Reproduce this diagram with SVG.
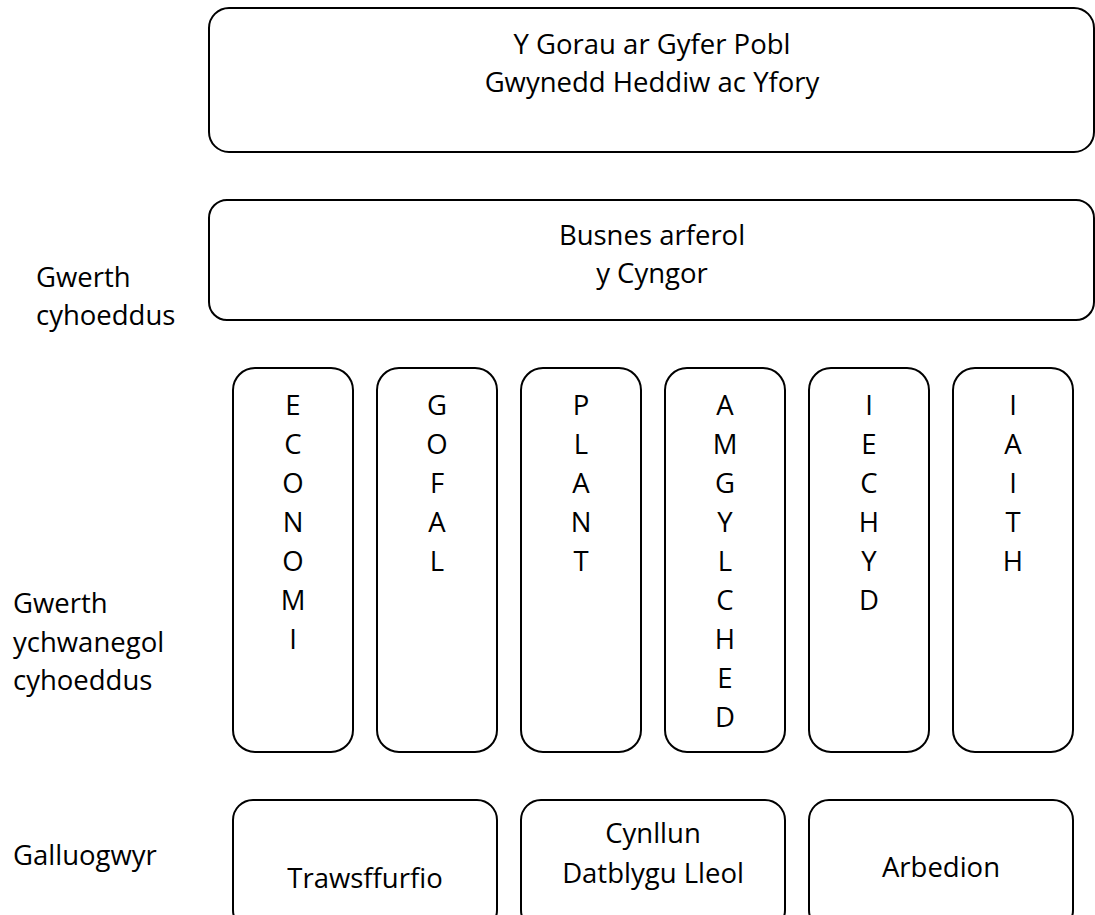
<svg xmlns="http://www.w3.org/2000/svg" width="1095" height="915" viewBox="0 0 1095 915">
<style>
.box{fill:#fff;stroke:#000;stroke-width:2}
text{font-family:"Open Sans","Noto Sans","Liberation Sans",sans-serif;font-size:27.5px;fill:#000}
.c{text-anchor:middle}
</style>
<rect width="1095" height="915" fill="#fff"/>
<g id="goal">
<rect class="box" x="209" y="8" width="885" height="144" rx="20"/>
<text class="c" x="652" y="54">Y Gorau ar Gyfer Pobl</text>
<text class="c" x="652" y="92">Gwynedd Heddiw ac Yfory</text>
</g>
<g id="busnes">
<rect class="box" x="209" y="200" width="885" height="120" rx="18"/>
<text class="c" x="652" y="245">Busnes arferol</text>
<text class="c" x="652" y="283">y Cyngor</text>
</g>
<g id="label-gwerth">
<text x="36" y="287">Gwerth</text>
<text x="36" y="325">cyhoeddus</text>
</g>
<g id="label-ychwanegol">
<text x="13" y="613">Gwerth</text>
<text x="13" y="652">ychwanegol</text>
<text x="13" y="690">cyhoeddus</text>
</g>
<g id="label-galluogwyr">
<text x="13" y="865">Galluogwyr</text>
</g>
<g id="economi">
<rect class="box" x="233" y="368" width="120" height="384" rx="22"/>
<text class="c" x="293" y="415">E</text><text class="c" x="293" y="454">C</text><text class="c" x="293" y="493">O</text><text class="c" x="293" y="532">N</text><text class="c" x="293" y="571">O</text><text class="c" x="293" y="610">M</text><text class="c" x="293" y="649">I</text>
</g>
<g id="gofal">
<rect class="box" x="377" y="368" width="120" height="384" rx="22"/>
<text class="c" x="437" y="415">G</text><text class="c" x="437" y="454">O</text><text class="c" x="437" y="493">F</text><text class="c" x="437" y="532">A</text><text class="c" x="437" y="571">L</text>
</g>
<g id="plant">
<rect class="box" x="521" y="368" width="120" height="384" rx="22"/>
<text class="c" x="581" y="415">P</text><text class="c" x="581" y="454">L</text><text class="c" x="581" y="493">A</text><text class="c" x="581" y="532">N</text><text class="c" x="581" y="571">T</text>
</g>
<g id="amgylched">
<rect class="box" x="665" y="368" width="120" height="384" rx="22"/>
<text class="c" x="725" y="415">A</text><text class="c" x="725" y="454">M</text><text class="c" x="725" y="493">G</text><text class="c" x="725" y="532">Y</text><text class="c" x="725" y="571">L</text><text class="c" x="725" y="610">C</text><text class="c" x="725" y="649">H</text><text class="c" x="725" y="688">E</text><text class="c" x="725" y="727">D</text>
</g>
<g id="iechyd">
<rect class="box" x="809" y="368" width="120" height="384" rx="22"/>
<text class="c" x="869" y="415">I</text><text class="c" x="869" y="454">E</text><text class="c" x="869" y="493">C</text><text class="c" x="869" y="532">H</text><text class="c" x="869" y="571">Y</text><text class="c" x="869" y="610">D</text>
</g>
<g id="iaith">
<rect class="box" x="953" y="368" width="120" height="384" rx="22"/>
<text class="c" x="1013" y="415">I</text><text class="c" x="1013" y="454">A</text><text class="c" x="1013" y="493">I</text><text class="c" x="1013" y="532">T</text><text class="c" x="1013" y="571">H</text>
</g>
<g id="trawsffurfio">
<rect class="box" x="233" y="800" width="264" height="130" rx="20"/>
<text class="c" x="365" y="888">Trawsffurfio</text>
</g>
<g id="cynllun">
<rect class="box" x="521" y="800" width="264" height="130" rx="20"/>
<text class="c" x="653" y="843">Cynllun</text>
<text class="c" x="653" y="883">Datblygu Lleol</text>
</g>
<g id="arbedion">
<rect class="box" x="809" y="800" width="264" height="130" rx="20"/>
<text class="c" x="941" y="877">Arbedion</text>
</g>
<g id="connectors"></g>
</svg>
